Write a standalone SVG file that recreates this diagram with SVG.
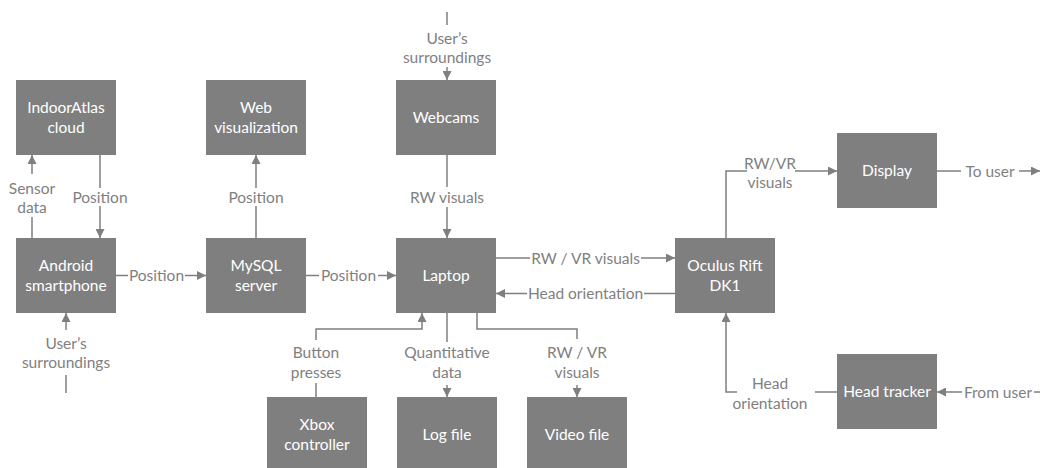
<svg xmlns="http://www.w3.org/2000/svg" width="1040" height="468" viewBox="0 0 1040 468">
<defs>
<marker id="ah" markerUnits="userSpaceOnUse" markerWidth="9" markerHeight="9" viewBox="0 0 10 10" refX="10" refY="5" orient="auto">
<path d="M0,0 L10,5 L0,10 z" fill="#7f7f7f"/>
</marker>
<style>
.box{fill:#7f7f7f;}
.nt{font-family:Lato,"Liberation Sans",sans-serif;font-size:15.5px;fill:#ffffff;text-anchor:middle;}
.lb{font-family:Lato,"Liberation Sans",sans-serif;font-size:15.5px;fill:#7f7f7f;text-anchor:middle;}
.ln{fill:none;stroke:#7f7f7f;stroke-width:1.5;}
.ar{marker-end:url(#ah);}
</style>
</defs>
<rect width="1040" height="468" fill="#ffffff"/>
<g id="connectors">
<path class="ln" d="M32,238 V217"/><path class="ln ar" d="M32,174 V155"/>
<text class="lb" x="32" y="193.5">Sensor</text><text class="lb" x="32" y="212.5">data</text>
<path class="ln" d="M100,155 V188"/><path class="ln ar" d="M100,206 V238"/>
<text class="lb" x="100" y="202.5">Position</text>
<path class="ln" d="M116,275.5 H128"/><path class="ln ar" d="M185,275.5 H206"/>
<text class="lb" x="156.5" y="281">Position</text>
<path class="ln" d="M256,238 V206"/><path class="ln ar" d="M256,188 V155"/>
<text class="lb" x="256" y="202.5">Position</text>
<path class="ln" d="M306,275.5 H319"/><path class="ln ar" d="M378,275.5 H396"/>
<text class="lb" x="348.5" y="281">Position</text>
<path class="ln" d="M447,12 V25"/><path class="ln ar" d="M447,67 V80"/>
<text class="lb" x="447" y="43.5">User’s</text><text class="lb" x="447" y="62.5">surroundings</text>
<path class="ln" d="M447,155 V187"/><path class="ln ar" d="M447,207 V238"/>
<text class="lb" x="447" y="202.5">RW visuals</text>
<path class="ln" d="M66,393 V375"/><path class="ln ar" d="M66,330 V313"/>
<text class="lb" x="66" y="348.5">User’s</text><text class="lb" x="66" y="367.5">surroundings</text>
<path class="ln" d="M496,258 H530"/><path class="ln ar" d="M641,258 H675"/>
<text class="lb" x="585.5" y="263.5">RW / VR visuals</text>
<path class="ln" d="M675,293.5 H644"/><path class="ln ar" d="M527,293.5 H496"/>
<text class="lb" x="585.5" y="299">Head orientation</text>
<path class="ln" d="M316,397 V383"/><path class="ln ar" d="M316,340 V329 H422 V313"/>
<text class="lb" x="316" y="357.5">Button</text><text class="lb" x="316" y="378">presses</text>
<path class="ln" d="M447,313 V342"/><path class="ln ar" d="M447,385 V397"/>
<text class="lb" x="447" y="357.5">Quantitative</text><text class="lb" x="447" y="378">data</text>
<path class="ln" d="M477,313 V329 H577 V339"/><path class="ln ar" d="M577,385 V397"/>
<text class="lb" x="577" y="357.5">RW / VR</text><text class="lb" x="577" y="378">visuals</text>
<path class="ln" d="M726,238 V171 H747"/><path class="ln ar" d="M795,171 H837"/>
<text class="lb" x="770" y="168.5">RW/VR</text><text class="lb" x="770" y="187.5">visuals</text>
<path class="ln" d="M937,171 H961"/><path class="ln ar" d="M1019,171 H1040"/>
<text class="lb" x="990" y="176.5">To user</text>
<path class="ln" d="M1040,392 H1034"/><path class="ln ar" d="M962,392 H937"/>
<text class="lb" x="998" y="397.5">From user</text>
<path class="ln" d="M837,392 H815"/><path class="ln ar" d="M737,392 H726 V313"/>
<text class="lb" x="770" y="388.5">Head</text><text class="lb" x="770" y="408.5">orientation</text>
</g>
<g id="indooratlas"><rect class="box" x="16" y="80" width="100" height="75"/><text class="nt" x="66" y="113">IndoorAtlas</text><text class="nt" x="66" y="133">cloud</text></g>
<g id="android"><rect class="box" x="16" y="238" width="100" height="75"/><text class="nt" x="66" y="271">Android</text><text class="nt" x="66" y="291">smartphone</text></g>
<g id="webvis"><rect class="box" x="206" y="80" width="100" height="75"/><text class="nt" x="256" y="113">Web</text><text class="nt" x="256" y="133">visualization</text></g>
<g id="mysql"><rect class="box" x="206" y="238" width="100" height="75"/><text class="nt" x="256" y="271">MySQL</text><text class="nt" x="256" y="291">server</text></g>
<g id="webcams"><rect class="box" x="396" y="80" width="100" height="75"/><text class="nt" x="446" y="123">Webcams</text></g>
<g id="laptop"><rect class="box" x="396" y="238" width="100" height="75"/><text class="nt" x="446" y="281">Laptop</text></g>
<g id="oculus"><rect class="box" x="675" y="238" width="100" height="75"/><text class="nt" x="725" y="271">Oculus Rift</text><text class="nt" x="725" y="291">DK1</text></g>
<g id="display"><rect class="box" x="837" y="133" width="100" height="75"/><text class="nt" x="887" y="176">Display</text></g>
<g id="headtracker"><rect class="box" x="837" y="354" width="100" height="75"/><text class="nt" x="887" y="397">Head tracker</text></g>
<g id="xbox"><rect class="box" x="267" y="397" width="100" height="75"/><text class="nt" x="317" y="430">Xbox</text><text class="nt" x="317" y="450">controller</text></g>
<g id="logfile"><rect class="box" x="397" y="397" width="100" height="75"/><text class="nt" x="447" y="440">Log file</text></g>
<g id="videofile"><rect class="box" x="527" y="397" width="100" height="75"/><text class="nt" x="577" y="440">Video file</text></g>
</svg>
